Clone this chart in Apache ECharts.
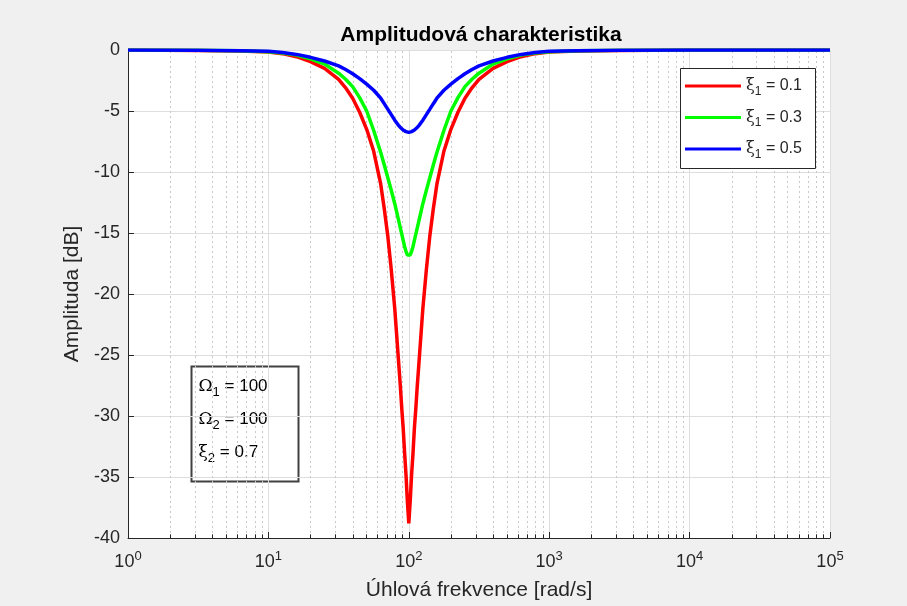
<!DOCTYPE html>
<html>
<head>
<meta charset="utf-8">
<script src="https://cdn.jsdelivr.net/npm/echarts@6/dist/echarts.min.js"></script>
<style>html,body{margin:0;padding:0;background:#f0f0f0;}#c{width:907px;height:606px;}</style>
</head>
<body>
<div id="c"></div>
<script>
// angular frequency [rad/s]
const freq = [1, 3.162, 6.31, 10, 12.59, 15.85, 19.95, 25.12, 31.62, 35.48, 39.81, 44.67, 50.12, 56.23, 63.10, 66.83, 70.79, 74.99, 79.43, 84.14, 87.10, 89.13, 91.20, 93.33, 95.50, 97.72, 100,
  102.3, 104.7, 107.2, 109.6, 112.2, 114.8, 118.9, 125.9, 133.4, 141.3, 149.6, 158.5, 177.8, 199.5, 223.9, 251.2, 281.8, 316.2, 398.1, 501.2, 631.0, 794.3, 1000, 1585, 3162, 10000, 100000];
// amplitude [dB]
const ampXi01 = [-0.01, -0.04, -0.09, -0.17, -0.3, -0.55, -0.95, -1.5, -2.4, -3.1, -3.95, -5.1, -6.5, -8.3, -11.0, -13.0, -15.2, -18.0, -21.2, -25.2, -27.6, -29.4, -31.0, -33.0, -34.8, -37.0, -38.8,
  -37.0, -34.8, -33.0, -31.0, -29.4, -27.6, -25.2, -21.2, -18.0, -15.2, -13.0, -11.0, -8.3, -6.5, -5.1, -3.95, -3.1, -2.4, -1.5, -0.95, -0.55, -0.3, -0.17, -0.09, -0.04, -0.01, 0];
const ampXi03 = [-0.01, -0.03, -0.07, -0.14, -0.25, -0.42, -0.72, -1.15, -1.9, -2.4, -3.0, -3.9, -5.0, -6.6, -8.4, -9.4, -10.45, -11.5, -12.6, -13.85, -14.6, -15.1, -15.6, -16.1, -16.5, -16.8, -16.9,
  -16.8, -16.5, -16.1, -15.6, -15.1, -14.6, -13.85, -12.6, -11.5, -10.45, -9.4, -8.4, -6.6, -5.0, -3.9, -3.0, -2.4, -1.9, -1.15, -0.72, -0.42, -0.25, -0.14, -0.07, -0.03, -0.01, 0];
const ampXi05 = [-0.01, -0.03, -0.06, -0.11, -0.2, -0.36, -0.6, -0.9, -1.3, -1.6, -1.95, -2.35, -2.8, -3.3, -3.95, -4.4, -4.85, -5.3, -5.75, -6.15, -6.35, -6.47, -6.56, -6.63, -6.69, -6.73, -6.75,
  -6.73, -6.69, -6.63, -6.56, -6.47, -6.35, -6.15, -5.75, -5.3, -4.85, -4.4, -3.95, -3.3, -2.8, -2.35, -1.95, -1.6, -1.3, -0.9, -0.6, -0.36, -0.2, -0.11, -0.06, -0.03, -0.01, 0];
const seriesNames = ['ξ1 = 0.1', 'ξ1 = 0.3', 'ξ1 = 0.5'];
const seriesColors = ['#ff0000', '#00ff00', '#0000ff'];
const yTicks = [0, -5, -10, -15, -20, -25, -30, -35, -40];
const paramLines = [['Ω', '1', ' = 100'], ['Ω', '2', ' = 100'], ['ξ', '2', ' = 0.7']];

const minorX = [];
for (let k = 0; k < 5; k++) for (let m = 2; m <= 9; m++) minorX.push(m * Math.pow(10, k));

const chart = echarts.init(document.getElementById('c'));
const FONT = 'Liberation Sans, Arial, Helvetica, sans-serif';
const pairs = (a) => freq.map((f, i) => [f, a[i]]);
const allAmps = [ampXi01, ampXi03, ampXi05];

const series = allAmps.map((a, i) => ({
  name: seriesNames[i], type: 'line', data: pairs(a), showSymbol: false, symbol: 'none',
  smooth: false, lineStyle: { color: seriesColors[i], width: 3.5 }, itemStyle: { color: seriesColors[i] },
  z: 5 + i
}));
// minor grid + minor ticks (decoration)
series.push({
  type: 'line', data: [], silent: true, z: 1,
  markLine: {
    silent: true, symbol: 'none', label: { show: false },
    lineStyle: { color: '#c8c8c8', type: [2, 3], width: 1 },
    data: minorX.map(v => ({ xAxis: v }))
  }
});
series.push({
  type: 'line', data: [], silent: true, z: 3,
  markLine: {
    silent: true, symbol: 'none', label: { show: false },
    lineStyle: { color: '#262626', type: 'solid', width: 1 },
    data: minorX.map(v => [{ coord: [v, -40] }, { coord: [v, -39.7] }])
  }
});

const subRich = (fs) => ({
  a: { fontFamily: FONT, fontSize: fs, color: '#262626' },
  g: { fontFamily: 'DejaVu Serif, serif', fontSize: fs, color: '#262626' },
  s: { fontFamily: FONT, fontSize: Math.round(fs * 0.75), color: '#262626', padding: [11, 0, 0, 0] }
});

chart.setOption({
  backgroundColor: '#f0f0f0',
  animation: false,
  title: {
    text: 'Amplitudová charakteristika', left: 476, top: 20, textAlign: 'center',
    textStyle: { fontFamily: FONT, fontSize: 21, fontWeight: 'bold', color: '#000' }
  },
  grid: { left: 128, right: 77, top: 50, bottom: 68, show: true, backgroundColor: '#ffffff', borderWidth: 0 },
  legend: {
    orient: 'vertical', left: 680, top: 68, data: seriesNames, z: 20,
    backgroundColor: 'transparent', borderWidth: 0,
    padding: [10, 4, 10, 5], itemGap: 12, itemWidth: 56, itemHeight: 3, icon: 'rect',
    formatter: (n) => '{g|ξ}{s|1}{a|' + n.slice(2) + '}',
    textStyle: { fontFamily: FONT, fontSize: 16, color: '#262626', rich: subRich(16) }
  },
  xAxis: {
    type: 'log', logBase: 10, min: 1, max: 100000,
    name: 'Úhlová frekvence [rad/s]', nameLocation: 'middle', nameGap: 42,
    nameTextStyle: { fontFamily: FONT, fontSize: 21, color: '#262626' },
    axisLine: { show: true, onZero: false, lineStyle: { color: '#262626', width: 1 } },
    axisTick: { show: true, inside: true, length: 6, lineStyle: { color: '#262626' } },
    axisLabel: {
      margin: 12, color: '#262626',
      formatter: (v) => '{b|10}{e|' + Math.round(Math.log10(v)) + '}',
      rich: {
        b: { fontFamily: FONT, fontSize: 18, color: '#262626' },
        e: { fontFamily: FONT, fontSize: 13, color: '#262626', padding: [0, 0, 12, 0] }
      }
    },
    splitLine: { show: true, lineStyle: { color: '#dedede', width: 1 } }
  },
  yAxis: {
    type: 'value', min: -40, max: 0, interval: 5,
    name: 'Amplituda [dB]', nameLocation: 'middle', nameGap: 44,
    nameTextStyle: { fontFamily: FONT, fontSize: 21, color: '#262626' },
    axisLine: { show: true, lineStyle: { color: '#262626', width: 1 } },
    axisTick: { show: true, inside: true, length: 6, lineStyle: { color: '#262626' } },
    axisLabel: { margin: 8, fontFamily: FONT, fontSize: 18, color: '#262626',
      formatter: (v) => yTicks.indexOf(v) >= 0 ? String(v) : '' },
    splitLine: { show: true, lineStyle: { color: '#dedede', width: 1 } }
  },
  graphic: [
    { type: 'rect', left: 680, top: 68, z: 10,
      shape: { width: 135, height: 100 },
      style: { fill: '#ffffff', stroke: '#262626', lineWidth: 1 } },
    {
      type: 'group', left: 189, top: 364, z: 100,
      children: [
        { type: 'rect', shape: { x: 0, y: 0, width: 107, height: 115 },
          style: { fill: 'none', stroke: '#404040', lineWidth: 2 } }
      ].concat(paramLines.map((p, i) => ({
        type: 'text', x: 7, y: 8 + i * 33,
        style: { text: '{g|' + p[0] + '}{s|' + p[1] + '}{a|' + p[2] + '}', rich: subRich(17) }
      })))
    }
  ],
  series: series
});
</script>
</body>
</html>
